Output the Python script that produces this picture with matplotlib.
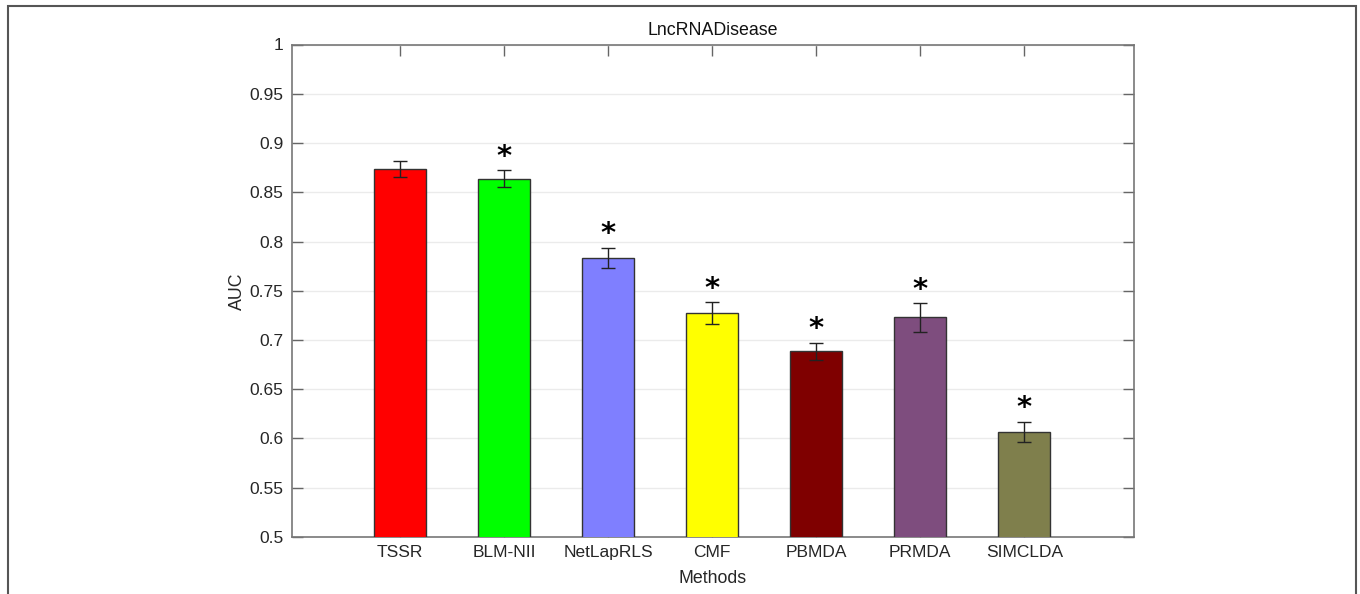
import matplotlib
matplotlib.use('Agg')
import matplotlib.pyplot as plt
from matplotlib.patches import Rectangle
from matplotlib.ticker import FormatStrFormatter, MultipleLocator

plt.rcParams['font.family'] = ['Liberation Sans', 'DejaVu Sans']

methods = ['TSSR', 'BLM-NII', 'NetLapRLS', 'CMF', 'PBMDA', 'PRMDA', 'SIMCLDA']
auc = [0.8736, 0.8637, 0.7836, 0.7274, 0.6885, 0.7230, 0.6066]
err = [0.0081, 0.0084, 0.0101, 0.0110, 0.0088, 0.0146, 0.0105]
signif = [False, True, True, True, True, True, True]
colors = ['#ff0000', '#00ff00', '#7f7fff', '#ffff00', '#7f0000', '#7e4d7e', '#7f7f4c']

fig = plt.figure(figsize=(13.6, 5.94), dpi=100)
ax = fig.add_axes([292/1360, 1-537/594, (1133.5-292)/1360, (537-44.5)/594])

x = list(range(1, len(methods)+1))
ax.bar(x, auc, width=0.5, color=colors, edgecolor='#333333', linewidth=1, zorder=3)
ax.errorbar(x, auc, yerr=err, fmt='none', ecolor='#222222', elinewidth=1,
            capsize=5, capthick=1, zorder=4)
for xi, v, e, s in zip(x, auc, err, signif):
    if s:
        ax.text(xi, v+e+0.0135, '*', ha='center', va='center', fontsize=21,
                fontweight='bold', color='black', family='DejaVu Sans')

ax.set_xlim(-0.04, 8.05)
ax.set_ylim(0.5, 1.0)
ax.yaxis.set_major_locator(MultipleLocator(0.05))
ax.yaxis.set_major_formatter(FormatStrFormatter('%g'))
ax.set_xticks(x)
ax.set_xticklabels(methods)
ax.yaxis.grid(True, color='#ebebeb', linewidth=1, zorder=0)
ax.set_axisbelow(True)
ax.tick_params(direction='in', length=8, width=1, color='#666666',
               top=True, right=True, labelsize=12.5, labelcolor='#262626', pad=6)
for sp in ax.spines.values():
    sp.set_color('#777777')
    sp.set_linewidth(1.2)

ax.set_xlabel('Methods', fontsize=12.8, color='#262626', labelpad=7)
ax.set_ylabel('AUC', fontsize=12.8, color='#262626', labelpad=3)
ax.set_title('LncRNADisease', fontsize=12.8, color='#111111', pad=7)

fig.patches.append(Rectangle((7.5/1360, -0.02), (1355.5-7.5)/1360, 1-6/594+0.02,
                             transform=fig.transFigure, fill=False,
                             edgecolor='#555555', linewidth=1.5))

fig.savefig('out.png', dpi=100)
